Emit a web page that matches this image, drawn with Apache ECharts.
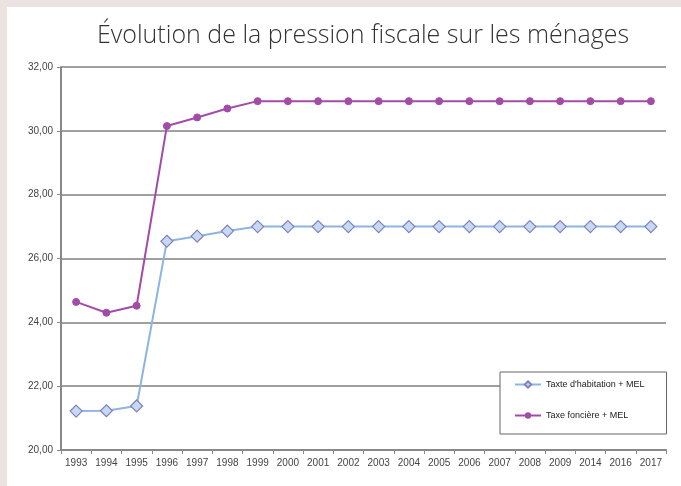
<!DOCTYPE html>
<html><head><meta charset="utf-8">
<script src="https://cdn.jsdelivr.net/npm/echarts@6/dist/echarts.min.js"></script>
<style>html,body{margin:0;padding:0;background:#ece2e0;}#c{width:681px;height:486px;}</style>
</head><body><div id="c"></div>
<script>
const years = ['1993','1994','1995','1996','1997','1998','1999','2000','2001','2002','2003','2004','2005','2006','2007','2008','2009','2014','2016','2017'];
const habitation = [21.22,21.23,21.38,26.54,26.70,26.86,27.00,27.00,27.00,27.00,27.00,27.00,27.00,27.00,27.00,27.00,27.00,27.00,27.00,27.00];
const fonciere = [24.64,24.30,24.52,30.15,30.42,30.70,30.93,30.93,30.93,30.93,30.93,30.93,30.93,30.93,30.93,30.93,30.93,30.93,30.93,30.93];
const seriesNames = ["Taxte d'habitation + MEL", 'Taxe foncière + MEL'];
const titleText = 'Évolution de la pression fiscale sur les ménages';

const chart = echarts.init(document.getElementById('c'));
chart.setOption({
  backgroundColor: '#ece2e0',
  animation: false,
  graphic: [{type:'rect', left:7, top:7, shape:{width:674, height:479}, style:{fill:'#ffffff'}, z:-10}],
  title: {text: titleText, left: 97, top: 23,
    textStyle:{fontFamily:'Open Sans', fontWeight:300, fontSize:25, color:'#333'}, padding:0},
  grid: {left:61, right:15, top:67, bottom:36, containLabel:false},
  legend: {
    orient:'vertical', left:500, top:372, width:140,
    backgroundColor:'#fff', borderColor:'#666', borderWidth:1,
    padding:[8,22,14,14], itemGap:22, itemWidth:26, itemHeight:8,
    textStyle:{fontFamily:'Liberation Sans', fontSize:9, color:'#222'},
    data: seriesNames
  },
  xAxis: {type:'category', data: years, boundaryGap:true,
    axisLine:{lineStyle:{color:'#888', width:2}},
    axisTick:{show:true, length:4, lineStyle:{color:'#888'}},
    axisLabel:{fontFamily:'Liberation Sans', fontSize:10, color:'#444', margin:8}},
  yAxis: {type:'value', min:20, max:32, interval:2,
    axisLine:{show:true, lineStyle:{color:'#888', width:2}},
    axisTick:{show:true, length:4, lineStyle:{color:'#888'}},
    splitLine:{lineStyle:{color:'#808080', width:1.5}},
    axisLabel:{fontFamily:'Liberation Sans', fontSize:10, color:'#444', margin:8,
      formatter: v => v.toFixed(2).replace('.', ',')}},
  series: [
    {name: seriesNames[0], type:'line', data: habitation, symbol:'diamond', symbolSize:12,
      lineStyle:{color:'#8eb4e3', width:2}, itemStyle:{color:'#c6d9f1', borderColor:'#7f80c0', borderWidth:1.2}, z:3},
    {name: seriesNames[1], type:'line', data: fonciere, symbol:'circle', symbolSize:7,
      lineStyle:{color:'#a24ca8', width:2}, itemStyle:{color:'#a24ca8', borderColor:'#a24ca8'}, z:4}
  ]
});
</script></body></html>
